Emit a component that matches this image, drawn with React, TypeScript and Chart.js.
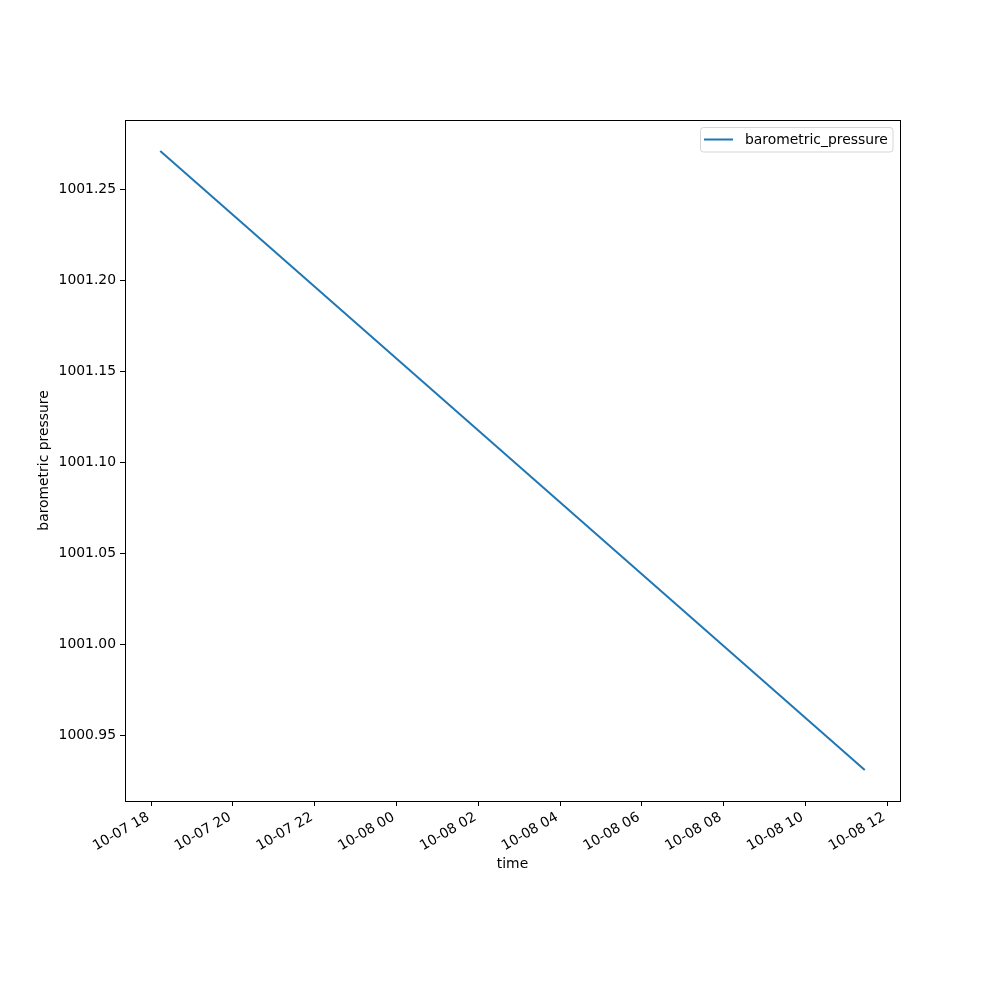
import React, { useEffect, useRef } from "react";
import { Chart, registerables } from "chart.js";

Chart.register(...registerables);

// hours since 2023-10-07 00:00
const TIME_HOURS = [18.22, 35.455];
const PRESSURE = [1001.2713, 1000.9308];
const SERIES_LABEL = "barometric_pressure";
const X_TICKS = [18, 20, 22, 24, 26, 28, 30, 32, 34, 36];
const Y_TICKS = [1000.95, 1001.0, 1001.05, 1001.1, 1001.15, 1001.2, 1001.25];
const X_MIN = 17.358;
const X_MAX = 36.317;
const Y_MIN = 1000.9138;
const Y_MAX = 1001.2883;

const FONT = "DejaVu Sans";
const COLOR = "#1f77b4";

function fmtTime(h: number): string {
  const day = 7 + Math.floor(h / 24);
  const hour = Math.round(h - Math.floor(h / 24) * 24);
  const p = (n: number) => (n < 10 ? "0" + n : String(n));
  return "10-" + p(day) + " " + p(hour);
}

const framePlugin = {
  id: "frameAndLegend",
  afterDraw(chart: any) {
    const { ctx, chartArea } = chart;
    ctx.save();
    ctx.strokeStyle = "#000";
    ctx.lineWidth = 1;
    ctx.strokeRect(
      Math.round(chartArea.left) + 0.5,
      Math.round(chartArea.top) + 0.5,
      Math.round(chartArea.right - chartArea.left),
      Math.round(chartArea.bottom - chartArea.top)
    );
    // legend
    const bx = 700.5, by = 127.5, bw = 192.5, bh = 24.5, r = 3;
    ctx.beginPath();
    ctx.moveTo(bx + r, by);
    ctx.lineTo(bx + bw - r, by);
    ctx.arcTo(bx + bw, by, bx + bw, by + r, r);
    ctx.lineTo(bx + bw, by + bh - r);
    ctx.arcTo(bx + bw, by + bh, bx + bw - r, by + bh, r);
    ctx.lineTo(bx + r, by + bh);
    ctx.arcTo(bx, by + bh, bx, by + bh - r, r);
    ctx.lineTo(bx, by + r);
    ctx.arcTo(bx, by, bx + r, by, r);
    ctx.closePath();
    ctx.fillStyle = "rgba(255,255,255,0.8)";
    ctx.fill();
    ctx.strokeStyle = "#d5d5d5";
    ctx.stroke();
    ctx.beginPath();
    ctx.strokeStyle = COLOR;
    ctx.lineWidth = 2;
    ctx.moveTo(704, 139.5);
    ctx.lineTo(733, 139.5);
    ctx.stroke();
    ctx.fillStyle = "#000";
    ctx.font = "13.9px '" + FONT + "'";
    ctx.textAlign = "left";
    ctx.textBaseline = "middle";
    ctx.fillText(SERIES_LABEL, 745, 140.5);
    ctx.restore();
  },
};

export default function App() {
  const ref = useRef<HTMLCanvasElement | null>(null);
  useEffect(() => {
    if (!ref.current) return;
    const data = TIME_HOURS.map((t, i) => ({ x: t, y: PRESSURE[i] }));
    const chart = new Chart(ref.current, {
      type: "line",
      data: {
        datasets: [
          {
            label: SERIES_LABEL,
            data,
            borderColor: COLOR,
            borderWidth: 2,
            pointRadius: 0,
            fill: false,
            tension: 0,
          },
        ],
      },
      options: {
        animation: false,
        responsive: false,
        maintainAspectRatio: false,
        devicePixelRatio: 1,
        layout: { padding: { left: 0, top: 120, right: 100, bottom: 0 } },
        plugins: { legend: { display: false }, tooltip: { enabled: false } },
        scales: {
          x: {
            type: "linear",
            min: X_MIN,
            max: X_MAX,
            afterBuildTicks: (s: any) => {
              s.ticks = X_TICKS.map((v) => ({ value: v }));
            },
            afterFit: (s: any) => {
              s.height = 199;
            },
            grid: {
              display: true,
              drawOnChartArea: false,
              drawTicks: true,
              tickLength: 5,
              tickColor: "#000",
              color: "#000",
            },
            border: { display: false },
            ticks: {
              autoSkip: false,
              minRotation: 30,
              maxRotation: 30,
              padding: 3,
              labelOffset: -3,
              color: "#000",
              font: { family: FONT, size: 13.9 },
              callback: (v: any) => fmtTime(Number(v)),
            },
            title: {
              display: true,
              text: "time",
              color: "#000",
              font: { family: FONT, size: 13.9 },
              padding: { top: 0, bottom: 127.2 },
            },
          },
          y: {
            type: "linear",
            min: Y_MIN,
            max: Y_MAX,
            afterBuildTicks: (s: any) => {
              s.ticks = Y_TICKS.map((v) => ({ value: v }));
            },
            afterFit: (s: any) => {
              s.width = 125;
            },
            grid: {
              display: true,
              drawOnChartArea: false,
              drawTicks: true,
              tickLength: 5,
              tickColor: "#000",
              color: "#000",
            },
            border: { display: false },
            ticks: {
              autoSkip: false,
              padding: 4,
              color: "#000",
              font: { family: FONT, size: 13.9 },
              callback: (v: any) => Number(v).toFixed(2),
            },
            title: {
              display: true,
              text: "barometric pressure",
              color: "#000",
              font: { family: FONT, size: 13.9 },
              padding: { top: 35.7, bottom: 0 },
            },
          },
        },
      },
      plugins: [framePlugin],
    });
    return () => chart.destroy();
  }, []);
  return (
    <div style={{ position: "absolute", left: 0, top: 0, width: 1000, height: 1000, background: "#fff" }}>
      <canvas ref={ref} width={1000} height={1000} style={{ width: 1000, height: 1000 }} />
    </div>
  );
}
